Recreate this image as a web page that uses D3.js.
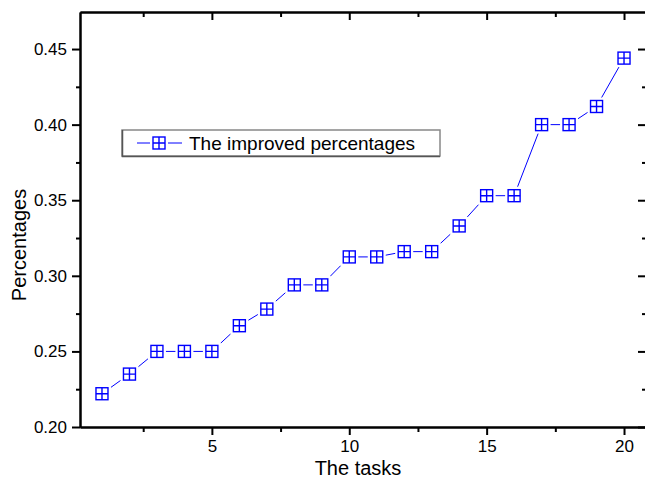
<!DOCTYPE html>
<html lang="en">
  <head>
    <meta charset="UTF-8" />
    <title>The improved percentages</title>
    <style>
      body { margin: 0; background: #fff; }
      svg { display: block; font-family: "Liberation Sans", Arial, sans-serif; }
    </style>
  </head>
  <body>
    <div id="wrapper"></div>
    <script src="https://d3js.org/d3.v7.min.js"></script>
    <script>
      // data
      const tasks = [1, 2, 3, 4, 5, 6, 7, 8, 9, 10, 11, 12, 13, 14, 15, 16, 17, 18, 19, 20];
      const percentages = [0.222, 0.235, 0.25, 0.25, 0.25, 0.267, 0.278, 0.294, 0.294, 0.3125,
                           0.3125, 0.316, 0.316, 0.333, 0.353, 0.353, 0.4, 0.4, 0.412, 0.444];
      const xTicks = [5, 10, 15, 20];
      const xMinor = [2.5, 7.5, 12.5, 17.5];
      const yTicks = [0.20, 0.25, 0.30, 0.35, 0.40, 0.45];
      const yMinor = [0.225, 0.275, 0.325, 0.375, 0.425];
      const seriesName = "The improved percentages";

      const W = 645, H = 479;
      const pLeft = 80, pRight = 646, pTop = 12, pBottom = 427;

      const svg = d3.select("#wrapper").append("svg")
        .attr("width", W).attr("height", H);

      const x = d3.scaleLinear().domain([0.2, 20.8]).range([pLeft, pRight]);
      const y = d3.scaleLinear().domain([0.2, 0.4745]).range([pBottom, pTop]);

      // bottom/left ticks point out, top/right ticks point in
      svg.append("g").attr("transform", `translate(0,${pBottom})`)
        .call(d3.axisBottom(x).tickValues(xTicks).tickSize(8).tickSizeOuter(0).tickPadding(5).tickFormat(d3.format("d")));
      svg.append("g").attr("transform", `translate(0,${pBottom})`)
        .call(d3.axisBottom(x).tickValues(xMinor).tickSize(5).tickSizeOuter(0).tickFormat(""));
      svg.append("g").attr("transform", `translate(0,${pTop})`)
        .call(d3.axisBottom(x).tickValues(xTicks).tickSize(8).tickSizeOuter(0).tickFormat(""));
      svg.append("g").attr("transform", `translate(0,${pTop})`)
        .call(d3.axisBottom(x).tickValues(xMinor).tickSize(5).tickSizeOuter(0).tickFormat(""));

      svg.append("g").attr("transform", `translate(${pLeft},0)`)
        .call(d3.axisLeft(y).tickValues(yTicks).tickSize(8).tickSizeOuter(0).tickPadding(5).tickFormat(d3.format(".2f")));
      svg.append("g").attr("transform", `translate(${pLeft},0)`)
        .call(d3.axisLeft(y).tickValues(yMinor).tickSize(4).tickSizeOuter(0).tickFormat(""));
      svg.append("g").attr("transform", `translate(${pRight},0)`)
        .call(d3.axisLeft(y).tickValues(yTicks).tickSize(8).tickSizeOuter(0).tickFormat(""));
      svg.append("g").attr("transform", `translate(${pRight},0)`)
        .call(d3.axisLeft(y).tickValues(yMinor).tickSize(4).tickSizeOuter(0).tickFormat(""));

      svg.selectAll(".domain").attr("stroke", "#000").attr("stroke-width", 2);
      svg.selectAll(".tick line").attr("stroke", "#000").attr("stroke-width", 2);
      svg.selectAll(".tick text").attr("fill", "#000").style("font-size", "17px")
        .style("font-family", "'Liberation Sans', Arial, sans-serif");

      // axis titles
      svg.append("text").attr("x", (pLeft + pRight) / 2 - 5).attr("y", 475)
        .attr("text-anchor", "middle").style("font-size", "20px").text("The tasks");
      svg.append("text").attr("transform", `translate(26,245) rotate(-90)`)
        .attr("text-anchor", "middle").style("font-size", "20px").text("Percentages");

      // series line
      const pts = tasks.map((t, i) => [t, percentages[i]]);
      svg.append("path").datum(pts)
        .attr("fill", "none").attr("stroke", "#0000ff").attr("stroke-width", 1)
        .attr("d", d3.line().x(d => x(d[0])).y(d => y(d[1])));

      function marker(g, cx, cy) {
        const s = 12;
        g.append("rect").attr("x", cx - s / 2 - 3).attr("y", cy - s / 2 - 3)
          .attr("width", s + 6).attr("height", s + 6).attr("fill", "#fff");
        g.append("rect").attr("x", cx - s / 2).attr("y", cy - s / 2)
          .attr("width", s).attr("height", s)
          .attr("fill", "none").attr("stroke", "#0000ff").attr("stroke-width", 1.4);
        g.append("path").attr("d", `M${cx - s / 2},${cy}H${cx + s / 2}M${cx},${cy - s / 2}V${cy + s / 2}`)
          .attr("stroke", "#0000ff").attr("stroke-width", 1.4);
      }

      const mg = svg.append("g");
      pts.forEach(d => marker(mg, x(d[0]), y(d[1])));

      // legend
      const lg = svg.append("g");
      lg.append("rect").attr("x", 122).attr("y", 130).attr("width", 318).attr("height", 26)
        .attr("fill", "#fff").attr("stroke", "#888").attr("stroke-width", 1.5);
      lg.append("path").attr("d", "M122.5,130V156.5H440").attr("fill", "none")
        .attr("stroke", "#555").attr("stroke-width", 1.5);
      lg.append("line").attr("x1", 137).attr("x2", 182).attr("y1", 143).attr("y2", 143)
        .attr("stroke", "#0000ff").attr("stroke-width", 1);
      marker(lg, 159, 143);
      lg.append("text").attr("x", 189).attr("y", 150).style("font-size", "19px").text(seriesName);
    </script>
  </body>
</html>
